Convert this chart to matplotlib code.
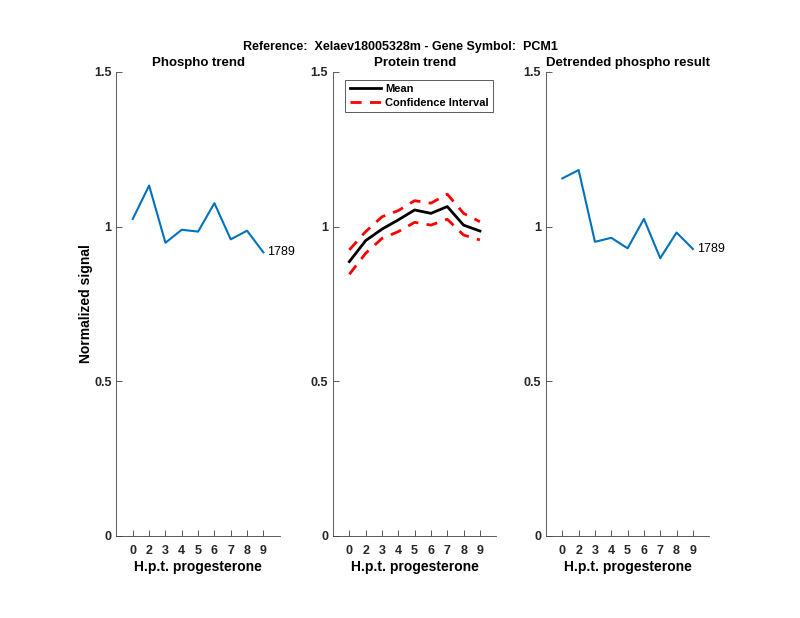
import numpy as np
import matplotlib
matplotlib.use('Agg')
import matplotlib.pyplot as plt

plt.rcParams['font.family'] = ['Liberation Sans', 'DejaVu Sans']

# hours post progesterone (tick labels), one point per sample
hpt_labels = ['0', '2', '3', '4', '5', '6', '7', '8', '9']

phospho = [1.025, 1.133, 0.948, 0.990, 0.984, 1.076, 0.959, 0.987, 0.917]
protein_mean = [0.887, 0.955, 0.992, 1.022, 1.054, 1.043, 1.065, 1.005, 0.986]
protein_upper = [0.925, 0.984, 1.032, 1.052, 1.084, 1.076, 1.105, 1.043, 1.016]
protein_lower = [0.846, 0.914, 0.962, 0.984, 1.014, 1.005, 1.024, 0.973, 0.957]
detrended = [1.156, 1.183, 0.951, 0.964, 0.930, 1.025, 0.898, 0.981, 0.928]
peptide_id = '1789'

blue = '#0072BD'
x = np.arange(1, len(hpt_labels) + 1)

fig = plt.figure(figsize=(8, 6.18), dpi=100)
lefts = [0.1456, 0.4163, 0.6825]
axes = [fig.add_axes([l, 0.1327, 0.204, 0.7508]) for l in lefts]

def style(ax, title):
    ax.set_xlim(0, 10)
    ax.set_ylim(0, 1.5)
    ax.set_xticks(x)
    ax.set_xticklabels(hpt_labels, fontweight='bold', fontsize=9)
    ax.set_yticks([0, 0.5, 1, 1.5])
    ax.set_yticklabels(['0', '0.5', '1', '1.5'], fontweight='bold', fontsize=9)
    ax.tick_params(direction='in', length=4, width=0.6, color='#404040', labelcolor='#262626')
    ax.tick_params(axis='x', pad=6.5)
    for s in ['top', 'right']:
        ax.spines[s].set_visible(False)
    for s in ['left', 'bottom']:
        ax.spines[s].set_color('#404040')
        ax.spines[s].set_linewidth(0.6)
    ax.set_title(title, fontweight='bold', fontsize=9.5, pad=4)
    ax.set_xlabel('H.p.t. progesterone', fontweight='bold', fontsize=10, labelpad=2.5)

ax = axes[0]
ax.plot(x, phospho, color=blue, lw=1.5)
ax.text(x[-1] + 0.25, phospho[-1], peptide_id, fontsize=9, va='center')
style(ax, 'Phospho trend')
ax.set_ylabel('Normalized signal', fontweight='bold', fontsize=10, labelpad=0.5)

ax = axes[1]
ax.plot(x, protein_mean, color='black', lw=2, label='Mean')
ax.plot(x, protein_upper, color='red', lw=2, ls=(0, (4, 3)), label='Confidence Interval')
ax.plot(x, protein_lower, color='red', lw=2, ls=(0, (4, 3)))
style(ax, 'Protein trend')
leg = ax.legend(loc='upper left', bbox_to_anchor=(0.04, 0.995),
                prop={'weight': 'bold', 'size': 8}, fancybox=False, framealpha=1,
                edgecolor='#404040', handlelength=2.8, handletextpad=0.4,
                borderpad=0.4, labelspacing=0.3)
leg.get_frame().set_linewidth(0.6)

ax = axes[2]
ax.plot(x, detrended, color=blue, lw=1.5)
ax.text(x[-1] + 0.25, detrended[-1], peptide_id, fontsize=9, va='center')
style(ax, 'Detrended phospho result')

fig.suptitle('Reference:  Xelaev18005328m - Gene Symbol:  PCM1', fontweight='bold',
             fontsize=9, y=0.933)

fig.savefig('out.png', dpi=100)
